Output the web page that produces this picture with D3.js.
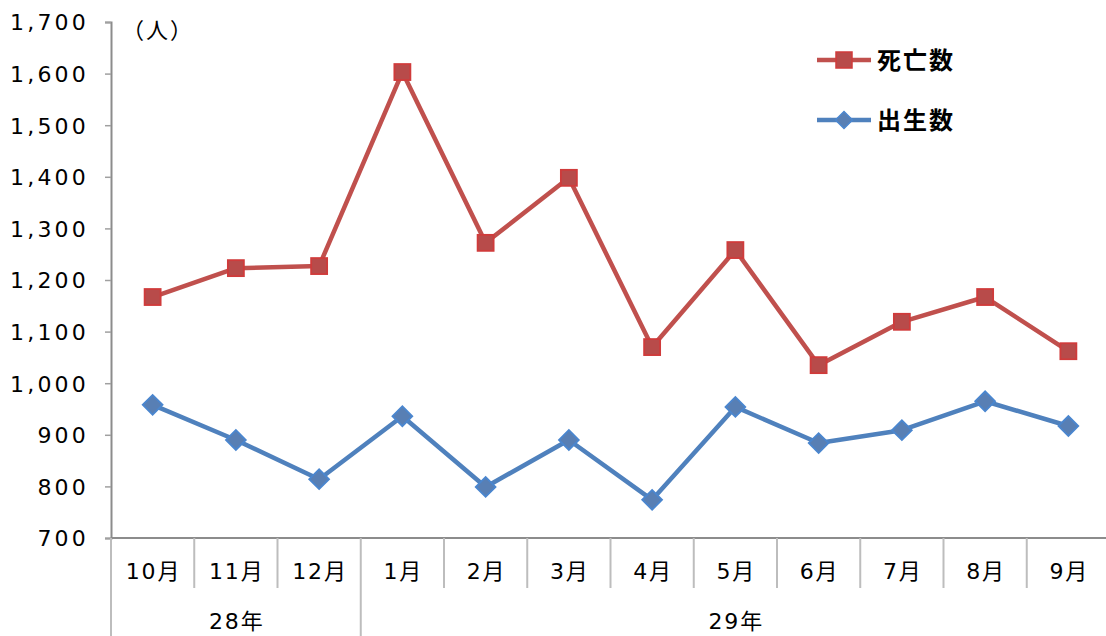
<!DOCTYPE html>
<html>
<head>
<meta charset="utf-8">
<script src="https://cdn.jsdelivr.net/npm/d3@7"></script>
<style>
  html, body { margin: 0; padding: 0; background: #fff; }
  svg { display: block; }
  text { font-family: "DejaVu Sans", "Noto Sans CJK JP", sans-serif; fill: #000; }
</style>
</head>
<body>
<svg id="chart" width="1106" height="636"></svg>
<script>
// Monthly births and deaths (persons), Oct H28 – Sep H29
const months = ["10月", "11月", "12月", "1月", "2月", "3月", "4月", "5月", "6月", "7月", "8月", "9月"];
const yearGroups = ["28年", "29年"];
const yearSpans = [3, 9];
const deaths = [1167, 1223, 1227, 1603, 1272, 1398, 1070, 1258, 1035, 1119, 1167, 1062];
const births = [958, 890, 814, 936, 799, 890, 774, 954, 884, 909, 965, 917];
const yTicks = [700, 800, 900, 1000, 1100, 1200, 1300, 1400, 1500, 1600, 1700];

const svg = d3.select("#chart");
const plotLeft = 111, plotRight = 1110, plotTop = 22, plotBottom = 538;

const x = d3.scaleBand().domain(months).range([plotLeft, plotRight]);
const y = d3.scaleLinear().domain([700, 1700]).range([plotBottom, plotTop]);

// Y axis
const yAxis = d3.axisLeft(y).tickValues(yTicks).tickSize(6).tickPadding(16)
  .tickFormat(d3.format(","));
const gy = svg.append("g").attr("transform", `translate(${plotLeft},0)`).call(yAxis);
gy.select(".domain").attr("stroke", "#8c8c8c").attr("stroke-width", 2);
gy.selectAll(".tick line").attr("stroke", "#a0a0a0").attr("stroke-width", 1.5);
gy.selectAll(".tick text")
  .style("font-size", "22px").style("letter-spacing", "3.2px")
  .style("font-family", "'DejaVu Sans', sans-serif")
  .attr("fill", "#111").attr("dy", "0.36em");

// X axis baseline
svg.append("line").attr("x1", plotLeft).attr("x2", plotRight)
  .attr("y1", plotBottom).attr("y2", plotBottom)
  .attr("stroke", "#8c8c8c").attr("stroke-width", 2);

// Category separators: month-only boundaries short, year boundaries full height
const groupEdges = [0];
yearSpans.reduce((acc, s) => { groupEdges.push(acc + s); return acc + s; }, 0);
const edgeIdx = d3.range(months.length + 1);
svg.append("g").selectAll("line").data(edgeIdx).join("line")
  .attr("x1", i => plotLeft + i * x.step()).attr("x2", i => plotLeft + i * x.step())
  .attr("y1", plotBottom)
  .attr("y2", i => groupEdges.includes(i) ? 636 : 588)
  .attr("stroke", "#bdbdbd").attr("stroke-width", 2);

// Month labels
svg.append("g").selectAll("text").data(months).join("text")
  .attr("x", d => x(d) + x.bandwidth() / 2 + 1)
  .attr("y", 579)
  .attr("text-anchor", "middle")
  .style("font-size", "22px").style("letter-spacing", "2px")
  .text(d => d);

// Year group labels
svg.append("g").selectAll("text").data(yearGroups).join("text")
  .attr("x", (d, i) => {
    const a = groupEdges[i], b = groupEdges[i + 1];
    return plotLeft + (a + b) / 2 * x.step() + 1;
  })
  .attr("y", 629)
  .attr("text-anchor", "middle")
  .style("font-size", "22px").style("letter-spacing", "2px")
  .text(d => d);

// Unit label
svg.append("text").attr("x", 122).attr("y", 38)
  .style("font-size", "22px").style("letter-spacing", "2px")
  .style("font-family", "'Noto Sans CJK JP', sans-serif")
  .text("（人）");

const cx = d => x(d) + x.bandwidth() / 2;
const line = d3.line().x((d, i) => cx(months[i])).y(d => y(d));

const red = "#c0504d";
const blue = "#4f81bd";

// Deaths series
svg.append("path").datum(deaths).attr("d", line)
  .attr("fill", "none").attr("stroke", red).attr("stroke-width", 4.5)
  .attr("stroke-linejoin", "round");
svg.append("g").selectAll("rect").data(deaths).join("rect")
  .attr("x", (d, i) => cx(months[i]) - 8).attr("y", d => y(d) - 8)
  .attr("width", 16).attr("height", 16)
  .attr("fill", "#b84b4a").attr("stroke", "#d03b3b").attr("stroke-width", 1.8);

// Births series
svg.append("path").datum(births).attr("d", line)
  .attr("fill", "none").attr("stroke", blue).attr("stroke-width", 4.5)
  .attr("stroke-linejoin", "round");
svg.append("g").selectAll("path.m").data(births).join("path")
  .attr("class", "m")
  .attr("transform", (d, i) => `translate(${cx(months[i])},${y(d)}) rotate(45)`)
  .attr("d", "M-7,-7H7V7H-7Z")
  .attr("fill", "#587fb4").attr("stroke", "#4a86cf").attr("stroke-width", 1.8);

// Legend
const legend = [
  { name: "死亡数", color: red, y: 60, shape: "square" },
  { name: "出生数", color: blue, y: 120, shape: "diamond" }
];
const lg = svg.append("g").selectAll("g").data(legend).join("g");
lg.append("line").attr("x1", 817).attr("x2", 871)
  .attr("y1", d => d.y).attr("y2", d => d.y)
  .attr("stroke", d => d.color).attr("stroke-width", 4.5);
lg.filter(d => d.shape === "square").append("rect")
  .attr("x", 836).attr("y", d => d.y - 8).attr("width", 16).attr("height", 16)
  .attr("fill", "#b84b4a").attr("stroke", "#d03b3b").attr("stroke-width", 1.5);
lg.filter(d => d.shape === "diamond").append("path")
  .attr("transform", d => `translate(844,${d.y}) rotate(45)`)
  .attr("d", "M-6,-6H6V6H-6Z")
  .attr("fill", "#587fb4").attr("stroke", "#4a86cf").attr("stroke-width", 1.5);
lg.append("text").attr("x", 877).attr("y", d => d.y + 9)
  .style("font-size", "24px").style("font-weight", "bold").style("letter-spacing", "2px")
  .style("font-family", "'Noto Sans CJK JP', sans-serif")
  .text(d => d.name);
</script>
</body>
</html>
